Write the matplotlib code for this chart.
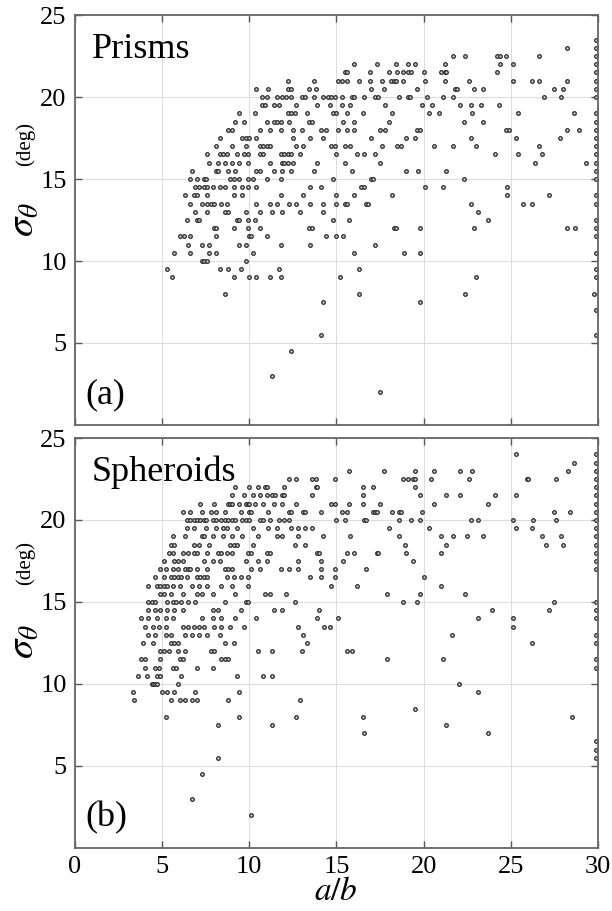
import numpy as np
import matplotlib.pyplot as plt

plt.rcParams['font.family'] = 'Liberation Serif'
plt.rcParams['mathtext.fontset'] = 'stix'

# sigma levels (deg) and the a/b values found on each level
prism_sigma = [23.5, 23.0, 22.5, 22.0, 21.5, 21.0, 20.5, 20.0, 19.5, 19.0,
               18.5, 18.0, 17.5, 17.0, 16.5, 16.0, 15.5, 15.0, 14.5, 14.0,
               13.5, 13.0, 12.5, 12.0, 11.5, 11.0, 10.5, 10.0, 9.5, 9.0,
               8.0, 7.5, 7.0, 5.5, 4.5, 3.0, 2.0]
prism_ab = [
    [29.9],
    [28.2, 29.9],
    [21.7, 22.4, 24.2, 24.4, 24.7, 26.6, 29.9],
    [16.0, 17.3, 18.4, 19.1, 19.5, 21.2, 24.4, 25.1, 29.9],
    [15.5, 15.6, 16.9, 18.0, 18.5, 18.8, 19.1, 19.3, 20.0, 21.0, 21.2, 21.3, 24.2, 29.9],
    [12.2, 13.7, 15.1, 15.3, 15.6, 16.3, 16.9, 17.6, 18.1, 18.3, 18.4, 18.8, 20.1, 21.2,
     22.6, 25.1, 26.2, 26.6, 28.2, 29.9],
    [10.4, 11.1, 12.2, 12.4, 13.4, 13.8, 17.0, 17.7, 19.6, 21.8, 21.9, 22.9, 23.4, 27.5,
     28.0, 29.9],
    [10.7, 11.0, 11.6, 11.9, 12.1, 12.4, 13.0, 13.2, 13.7, 14.2, 14.5, 14.7, 14.9, 15.3,
     15.9, 16.0, 16.6, 17.2, 17.4, 18.6, 19.1, 19.2, 20.2, 21.1, 21.7, 26.9, 27.9, 29.9],
    [10.7, 10.9, 11.4, 11.7, 12.7, 13.9, 14.6, 15.3, 15.8, 17.8, 19.9, 20.5, 22.1, 22.7,
     23.3, 24.3],
    [9.4, 10.3, 12.2, 12.4, 12.6, 13.3, 14.8, 15.0, 15.6, 16.5, 18.2, 20.3, 20.9, 22.8,
     25.4, 28.6, 29.9],
    [9.2, 9.7, 11.0, 11.4, 11.6, 11.8, 12.3, 13.4, 13.6, 15.4, 16.0, 18.0, 22.3, 23.4, 29.9],
    [8.8, 9.0, 10.6, 11.2, 11.8, 12.5, 13.0, 14.1, 14.4, 15.1, 15.6, 16.0, 17.5, 17.8,
     19.6, 19.8, 24.7, 24.9, 28.2, 28.9, 29.9],
    [8.3, 9.6, 9.8, 10.0, 10.4, 12.5, 13.5, 14.2, 17.0, 19.0, 19.5, 22.7, 25.3, 27.8, 29.9],
    [8.1, 9.0, 9.8, 10.6, 10.8, 11.0, 11.2, 12.7, 13.1, 14.7, 14.9, 15.5, 15.8, 17.6,
     18.5, 18.7, 20.6, 21.7, 23.0, 26.6, 29.9],
    [7.6, 8.3, 8.5, 8.7, 9.3, 9.7, 9.9, 10.6, 10.8, 11.8, 12.0, 12.2, 12.4, 12.9, 15.0,
     16.2, 16.6, 17.2, 24.1, 25.4, 26.8, 29.9],
    [7.7, 8.2, 8.6, 9.0, 9.4, 9.9, 11.2, 11.9, 12.0, 12.2, 12.5, 13.9, 15.5, 17.5, 26.4,
     29.3, 29.9],
    [6.7, 8.1, 8.2, 8.8, 9.2, 10.4, 10.6, 11.4, 11.9, 12.4, 13.7, 15.9, 19.0, 19.7, 21.3, 29.9],
    [6.6, 7.0, 7.4, 7.5, 8.9, 9.1, 9.4, 9.9, 10.2, 11.0, 11.8, 14.8, 17.0, 17.1, 22.3, 29.9],
    [6.9, 7.1, 7.4, 7.6, 7.9, 8.3, 8.6, 9.1, 9.6, 9.9, 10.4, 13.5, 14.1, 16.4, 16.6, 20.1,
     21.1, 24.8],
    [6.3, 6.8, 7.0, 7.6, 9.1, 9.6, 11.8, 13.1, 15.0, 16.0, 18.2, 24.8, 27.2, 29.9],
    [6.6, 7.3, 7.6, 7.8, 8.0, 8.4, 8.7, 10.4, 11.2, 11.6, 12.3, 12.7, 13.5, 14.2, 15.0,
     15.5, 15.6, 16.7, 16.8, 22.7, 25.7, 26.2, 29.9],
    [6.9, 7.6, 8.6, 8.8, 9.8, 10.6, 11.3, 11.9, 12.9, 14.2, 23.1],
    [6.4, 7.0, 7.1, 9.3, 9.4, 9.9, 10.3, 14.8, 15.7, 23.7, 29.9],
    [8.0, 8.1, 9.1, 9.9, 10.6, 13.4, 13.6, 18.3, 18.4, 19.8, 22.9, 28.2, 28.7, 29.9],
    [6.0, 6.25, 6.6, 8.1, 10.0, 10.1, 11.0, 14.4, 15.0, 15.4, 29.9],
    [6.5, 7.3, 7.7, 9.4, 9.8, 11.8, 13.5, 17.2],
    [5.7, 6.6, 7.7, 8.1, 10.2, 16.0, 18.9, 19.8, 29.9],
    [7.3, 7.4, 7.55, 9.8],
    [5.3, 8.3, 8.8, 9.5, 11.7, 16.3, 29.9],
    [5.55, 9.1, 10.0, 10.4, 11.2, 11.8, 15.2, 23.0, 29.9],
    [8.6, 16.3, 22.4, 29.8],
    [14.2, 19.8],
    [29.9],
    [14.1, 29.9],
    [12.4],
    [11.3],
    [17.5],
]

spheroid_sigma = [24.0, 23.5, 23.0, 22.5, 22.0, 21.5, 21.0, 20.5, 20.0, 19.5,
                  19.0, 18.5, 18.0, 17.5, 17.0, 16.5, 16.0, 15.5, 15.0, 14.5,
                  14.0, 13.5, 13.0, 12.5, 12.0, 11.5, 11.0, 10.5, 10.0, 9.5,
                  9.0, 8.5, 8.0, 7.5, 7.0, 6.5, 6.0, 5.5, 4.5, 3.0, 2.0]
spheroid_ab = [
    [25.3, 29.9],
    [28.6, 29.9],
    [15.7, 17.7, 19.5, 20.6, 22.1, 22.8, 28.3, 29.9],
    [12.3, 12.7, 13.6, 13.8, 14.9, 18.8, 19.1, 19.4, 19.5, 20.4, 22.6, 25.9, 26.0, 27.6, 29.9],
    [9.2, 10.0, 10.5, 10.9, 11.0, 12.0, 13.8, 13.9, 16.5, 17.1, 19.5, 29.9],
    [9.0, 9.7, 10.2, 10.6, 11.0, 11.3, 11.5, 11.9, 12.0, 13.6, 16.5, 19.8, 21.3, 22.1,
     24.1, 25.3, 29.9],
    [7.2, 8.0, 8.8, 8.9, 9.0, 9.4, 9.8, 9.9, 10.0, 10.3, 10.8, 11.4, 11.9, 12.7, 14.7,
     14.9, 15.7, 16.5, 17.5, 20.6, 23.7, 29.9],
    [6.2, 6.6, 7.3, 7.8, 8.1, 8.6, 9.5, 10.0, 10.1, 11.1, 12.3, 12.4, 13.1, 13.2, 14.1,
     15.3, 15.6, 17.1, 17.2, 17.3, 18.2, 18.6, 18.7, 19.9, 27.5, 28.4, 29.9],
    [6.4, 6.6, 6.8, 7.0, 7.2, 7.4, 7.5, 7.9, 8.1, 8.4, 8.6, 8.8, 9.0, 9.2, 9.6, 9.8,
     10.0, 10.6, 10.8, 11.2, 11.7, 12.0, 12.3, 15.0, 15.5, 16.6, 16.7, 18.6, 19.3, 19.8,
     22.7, 23.1, 25.1, 26.3, 27.6, 29.9],
    [6.4, 6.8, 7.5, 8.1, 8.5, 8.7, 9.3, 10.2, 11.1, 11.6, 12.4, 12.8, 13.2, 13.6, 18.0,
     20.3, 25.3, 26.2, 29.9],
    [5.6, 6.3, 7.3, 7.4, 7.9, 8.5, 9.0, 9.6, 10.5, 11.6, 11.9, 12.8, 14.2, 15.8, 18.6,
     21.0, 21.7, 22.5, 23.4, 26.8, 27.9, 29.9],
    [5.5, 5.7, 6.8, 7.1, 7.7, 8.9, 9.1, 9.3, 10.2, 12.6, 13.2, 18.95, 21.3, 27.0, 28.0, 29.9],
    [5.4, 5.6, 6.2, 6.5, 6.8, 7.0, 7.6, 8.2, 8.4, 8.7, 9.0, 9.9, 10.1, 11.0, 11.2, 13.9,
     14.0, 15.6, 16.0, 17.3, 17.4, 19.0, 21.0, 29.9],
    [5.1, 5.7, 5.9, 6.2, 7.4, 7.9, 8.3, 9.8, 10.5, 11.0, 12.8, 14.1, 15.4, 19.4, 29.9],
    [4.9, 5.2, 5.6, 5.9, 6.3, 6.5, 6.6, 7.0, 7.6, 8.6, 8.8, 9.0, 10.1, 10.6, 11.8, 12.3,
     12.8, 14.1, 14.9, 16.7, 29.9],
    [4.6, 5.1, 5.5, 5.7, 5.9, 6.1, 6.4, 7.0, 7.2, 7.4, 7.6, 8.7, 9.1, 9.5, 9.9, 13.5,
     14.1, 14.9, 20.0],
    [4.2, 4.7, 4.9, 5.1, 5.3, 5.6, 6.0, 6.7, 7.1, 7.6, 8.4, 9.0, 9.9, 14.7, 16.2, 21.0],
    [4.9, 5.1, 5.5, 6.2, 7.0, 7.3, 7.9, 9.2, 10.9, 11.2, 12.1, 17.9, 19.8, 22.4],
    [4.2, 4.4, 4.6, 5.3, 5.6, 5.8, 6.1, 6.5, 6.9, 8.6, 9.8, 9.9, 12.6, 18.8, 19.6, 27.5, 29.9],
    [4.2, 4.6, 4.9, 5.3, 5.7, 6.2, 7.9, 8.2, 9.5, 11.4, 11.9, 14.0, 23.9, 27.2, 29.9],
    [3.8, 4.2, 4.7, 5.2, 5.6, 7.3, 7.9, 8.4, 9.2, 10.4, 13.9, 15.1, 23.1, 25.1, 29.9],
    [4.0, 4.5, 4.8, 5.2, 6.2, 6.5, 6.8, 7.1, 7.4, 8.0, 8.4, 8.9, 9.7, 12.8, 14.3, 14.6, 25.1],
    [4.2, 4.6, 5.2, 5.5, 6.3, 6.7, 7.1, 7.6, 8.3, 13.1, 21.6, 29.9],
    [3.9, 4.5, 5.5, 5.7, 5.9, 8.6, 9.1, 13.3, 26.2, 29.9],
    [4.9, 5.1, 5.4, 5.9, 6.3, 7.8, 8.0, 10.5, 11.3, 13.0, 15.6, 15.9],
    [3.8, 4.0, 4.9, 6.0, 6.2, 8.4, 8.6, 8.8, 17.9, 21.1, 29.9],
    [4.0, 4.6, 4.8, 5.6, 5.8, 7.0, 7.9, 29.9],
    [3.6, 4.15, 4.7, 4.9, 6.1, 9.3, 10.8, 11.3],
    [4.4, 4.5, 4.6, 4.7, 5.9, 22.0],
    [3.3, 5.0, 5.3, 5.7, 6.9, 9.4, 23.1],
    [3.4, 5.5, 6.0, 6.3, 6.7, 7.0, 8.8, 12.9],
    [19.5],
    [5.2, 9.4, 12.7, 16.5, 28.5],
    [8.2, 11.3, 21.3],
    [16.6, 23.7],
    [29.9],
    [29.9],
    [8.2, 29.9],
    [7.3],
    [6.7],
    [10.1],
]

panel_names = ['Prisms', 'Spheroids']
panel_tags = ['(a)', '(b)']


def flatten(levels, rows):
    ab, sig = [], []
    for s, xs in zip(levels, rows):
        ab += xs
        sig += [s] * len(xs)
    return np.array(ab), np.array(sig)


fig = plt.figure(figsize=(6.12, 9.11), dpi=100)
ax_a = fig.add_axes([0.1225, 0.5335, 0.8546, 0.45])
ax_b = fig.add_axes([0.1225, 0.0692, 0.8546, 0.45])

data = [flatten(prism_sigma, prism_ab), flatten(spheroid_sigma, spheroid_ab)]

for ax, (x, y), name, tag in zip([ax_a, ax_b], data, panel_names, panel_tags):
    ax.plot(x, y, 'o', ms=2.6, mfc='#c8c8c8', mec='#2a2a2a', mew=0.9, ls='none')
    ax.set_xlim(0, 30)
    ax.set_ylim(0, 25)
    ax.set_xticks(np.arange(0, 31, 5))
    ax.set_yticks(np.arange(5, 26, 5))
    ax.grid(color='#dddddd', lw=0.8)
    ax.set_axisbelow(True)
    ax.tick_params(direction='in', length=5, width=1, top=True, right=True,
                   labelsize=19, color='#555555', pad=6)
    for sp in ax.spines.values():
        sp.set_color('#666666')
        sp.set_linewidth(1.3)
    ax.text(0.95, 22.4, name, fontsize=26)
    ax.text(0.6, 1.3, tag, fontsize=26)

ax_a.tick_params(labelbottom=False)
# x label placed by hand so the slash stays inside the figure
fig.text(336 / 612, 1 - 892 / 911, '$a/b$', fontsize=24, ha='center', va='center')

# y labels: large sigma plus smaller unit
for yc_sig, yc_deg in [(220, 144), (642, 563)]:
    fig.text(24 / 612, 1 - yc_sig / 911, r'$\sigma_\theta$', fontsize=28,
             rotation=90, ha='center', va='center')
    fig.text(25 / 612, 1 - yc_deg / 911, '(deg)', fontsize=15,
             rotation=90, ha='center', va='center')

fig.savefig('out.png', dpi=100)
